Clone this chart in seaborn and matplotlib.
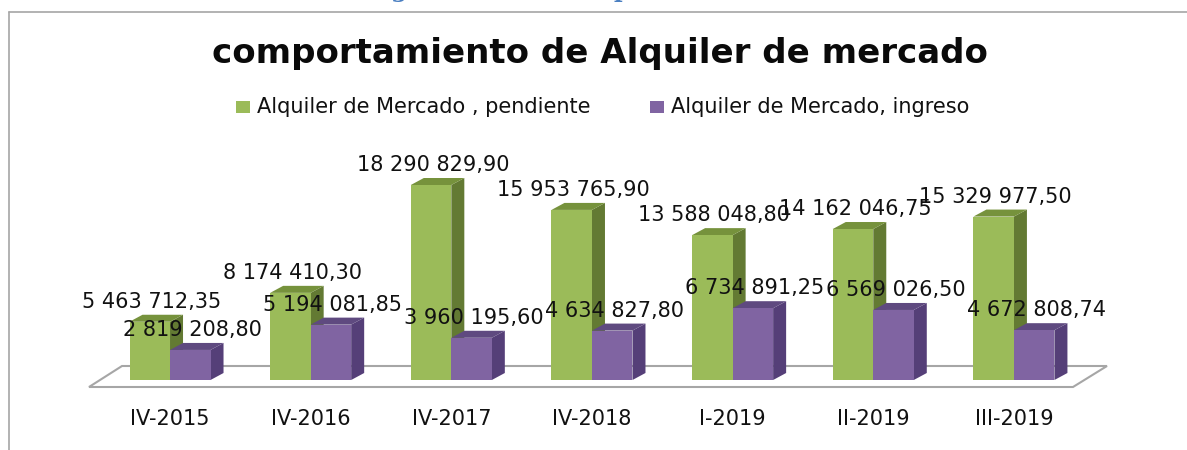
import numpy as np
import pandas as pd
import matplotlib
matplotlib.use("Agg")
import matplotlib.pyplot as plt
from matplotlib.patches import Polygon, Rectangle
import seaborn as sns

# values
periods = ["IV-2015", "IV-2016", "IV-2017", "IV-2018", "I-2019", "II-2019", "III-2019"]
pendiente = [5463712.35, 8174410.30, 18290829.90, 15953765.90, 13588048.80, 14162046.75, 15329977.50]
ingreso = [2819208.80, 5194081.85, 3960195.60, 4634827.80, 6734891.25, 6569026.50, 4672808.74]
pendiente_labels = ["5 463 712,35", "8 174 410,30", "18 290 829,90", "15 953 765,90",
                    "13 588 048,80", "14 162 046,75", "15 329 977,50"]
ingreso_labels = ["2 819 208,80", "5 194 081,85", "3 960 195,60", "4 634 827,80",
                  "6 734 891,25", "6 569 026,50", "4 672 808,74"]
series_names = ["Alquiler de Mercado , pendiente", "Alquiler de Mercado, ingreso"]
title = "comportamiento de Alquiler de mercado"

GREEN, GREEN_TOP, GREEN_SIDE = "#9bbb59", "#76923c", "#637a33"
PURPLE, PURPLE_TOP, PURPLE_SIDE = "#8064a2", "#5f4a80", "#553f78"
W, H = 1187, 450
DX, DY = 13, 7  # depth of the fake 3d, in pixels

sns.set_theme(style="white")
plt.rcParams["font.family"] = ["DejaVu Sans"]

df = pd.DataFrame({
    "period": periods * 2,
    "value": pendiente + ingreso,
    "series": [series_names[0]] * 7 + [series_names[1]] * 7,
})

fig = plt.figure(figsize=(W / 100, H / 100), dpi=100)


def px(x, y):
    return x / W, 1 - y / H


# axes run from x=89 to 1073 px, baseline y=380 px
ax = fig.add_axes([89 / W, 1 - 380 / H, (1073 - 89) / W, 195 / H])
sns.barplot(data=df, x="period", y="value", hue="series", order=periods,
            hue_order=series_names, palette=[GREEN, PURPLE], width=0.576,
            saturation=1, legend=False, ax=ax)
ax.set_xlim(-0.576, 6.42)
ax.set_ylim(0, 18290829.90)
ax.set_xlabel("")
ax.set_ylabel("")
ax.set_yticks([])
ax.tick_params(axis="x", length=0, pad=21, labelsize=15, labelcolor="#111111")
sns.despine(ax=ax, left=True, bottom=True)
ax.patch.set_alpha(0)

# frame of the chart
fig.add_artist(plt.Line2D([9 / W, 9 / W], [0, px(0, 12)[1]], color="#a6a6a6", lw=1.2))
fig.add_artist(plt.Line2D([9 / W, 1], [px(0, 12)[1]] * 2, color="#a6a6a6", lw=1.2))

# floor behind the bars
floor = Polygon([px(89, 387), px(122, 366), px(1107, 366), px(1073, 387)], closed=True,
                transform=fig.transFigure, fc="white", ec="#a6a6a6", lw=1.5, zorder=0.5)
ax.add_artist(floor)
floor.set_clip_on(False)

# depth faces and value labels, built from the bars seaborn drew
bars = [b for b in ax.patches if isinstance(b, Rectangle) and b.get_height() > 0]
labels = pendiente_labels + ingreso_labels
to_px = ax.transData
for i, b in enumerate(bars):
    is_green = i < 7
    x0, y0 = to_px.transform((b.get_x(), 0))
    x1, y1 = to_px.transform((b.get_x() + b.get_width(), b.get_height()))
    top_c = GREEN_TOP if is_green else PURPLE_TOP
    side_c = GREEN_SIDE if is_green else PURPLE_SIDE
    z = 1.5 if is_green else 2.5
    b.set_zorder(z + 0.2)
    b.set_edgecolor("none")
    side = [(x1, y0), (x1 + DX, y0 + DY), (x1 + DX, y1 + DY), (x1, y1)]
    top = [(x0, y1), (x0 + DX, y1 + DY), (x1 + DX, y1 + DY), (x1, y1)]
    for pts, c in ((side, side_c), (top, top_c)):
        poly = Polygon(pts, closed=True, transform=None, fc=c, ec="none", zorder=z)
        poly.set_clip_on(False)
        ax.add_artist(poly)
    ax.annotate(labels[i], ((b.get_x() + b.get_width() / 2), b.get_height()),
                xytext=(1.4, 14.4), textcoords="offset points", ha="center", va="center",
                fontsize=15, color="#111111", zorder=5, annotation_clip=False)

# title and legend
fig.text(600 / W, px(0, 63)[1], title, ha="center", va="baseline", fontsize=24.5,
         fontfamily="DejaVu Sans", fontweight="bold", color="#0a0a0a")
for x, name, c in ((236, series_names[0], GREEN), (650, series_names[1], PURPLE)):
    fig.add_artist(Rectangle(px(x, 113), 14 / W, 12 / H, transform=fig.transFigure, fc=c, ec="none"))
    fig.text((x + 21) / W, px(0, 107)[1], name, ha="left", va="center", fontsize=15, color="#111111")

# only the descenders of the heading above the chart are left in the picture
for x, ch in ((399, "g"), (622, "p")):
    fig.text(x / W, px(0, -2.5)[1], ch, ha="center", va="baseline", fontsize=17,
             fontfamily="DejaVu Serif", fontweight="bold", color="#4a7fc1")

fig.savefig("out.png", dpi=100)
